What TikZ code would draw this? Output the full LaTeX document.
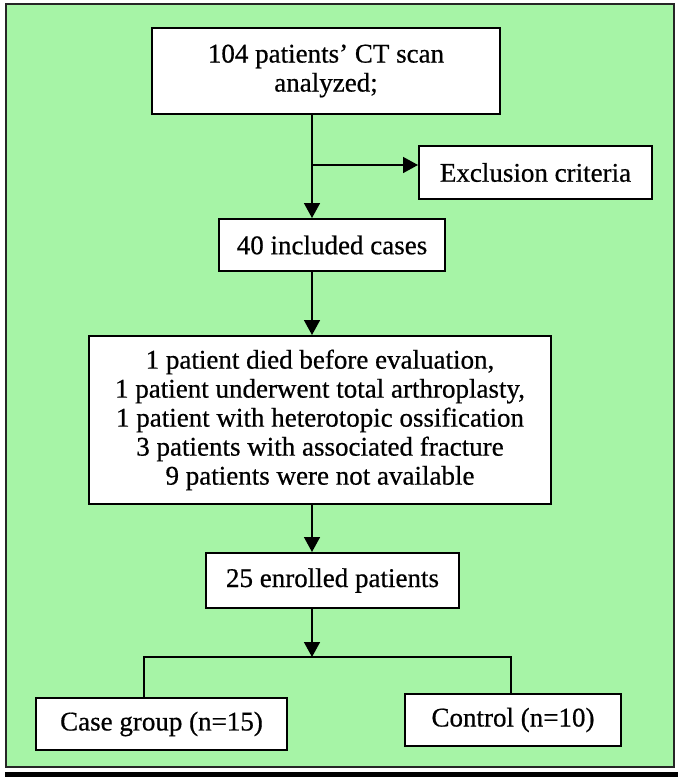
\documentclass[tikz,border=0pt]{standalone}
\usepackage{fontspec}
\setmainfont{Liberation Serif}
\newfontfamily\flowfont{Liberation Serif}[FakeBold=0.6,Ligatures=TeX]
\usetikzlibrary{arrows.meta}

\begin{document}
\begin{tikzpicture}[x=0.5pt,y=-0.5pt,
  box/.style={draw,fill=white,line width=1pt,align=center,inner sep=0pt,
    font=\flowfont\fontsize{13.5}{14.5}\selectfont},
  arr/.style={line width=0.8pt,-{Triangle[length=7.5pt,width=8pt]}},
  link/.style={line width=0.8pt}]
  \useasboundingbox (0,0) rectangle (686,777);
  \fill[white] (0,0) rectangle (686,777);
  \filldraw[fill={rgb,255:red,166;green,244;blue,166},draw=black!85,line width=0.9pt]
    (6,4) rectangle (674,767);
  \fill[black] (5,772) rectangle (678,777);
  \node[box,minimum width=174pt,minimum height=43pt] (scan) at (326,71)
    {104 patients’ CT scan\\analyzed;};
  \node[box,minimum width=116.5pt,minimum height=26.5pt] (excl) at (535.5,172.5)
    {Exclusion criteria};
  \node[box,minimum width=113pt,minimum height=26pt] (incl) at (332,245)
    {40 included cases};
  \node[box,minimum width=231pt,minimum height=84pt] (lost) at (320,420)
    {1 patient died before evaluation,\\
     1 patient underwent total arthroplasty,\\
     1 patient with heterotopic ossification\\
     3 patients with associated fracture\\
     9 patients were not available};
  \node[box,minimum width=126.5pt,minimum height=27.5pt] (enrol) at (332.5,580.5)
    {25 enrolled patients};
  \node[box,minimum width=125.5pt,minimum height=26pt] (case) at (161.5,724)
    {Case group (n=15)};
  \node[box,minimum width=108pt,minimum height=26pt] (ctrl) at (513,720)
    {Control (n=10)};
  \coordinate (spine) at (312,0);
  \coordinate (fork) at (312,165);
  \coordinate (split) at (312,657);
  \coordinate (splitL) at (144,657);
  \coordinate (splitR) at (511,657);
  \draw[arr] (scan.south -| spine) -- (incl.north -| spine);
  \draw[arr] (fork) -- (excl.west |- fork);
  \draw[arr] (incl.south -| spine) -- (lost.north -| spine);
  \draw[arr] (lost.south -| spine) -- (enrol.north -| spine);
  \draw[arr] (enrol.south -| spine) -- (split);
  \draw[link] (case.north -| splitL) -- (splitL) -- (splitR) -- (ctrl.north -| splitR);
\end{tikzpicture}
\end{document}
